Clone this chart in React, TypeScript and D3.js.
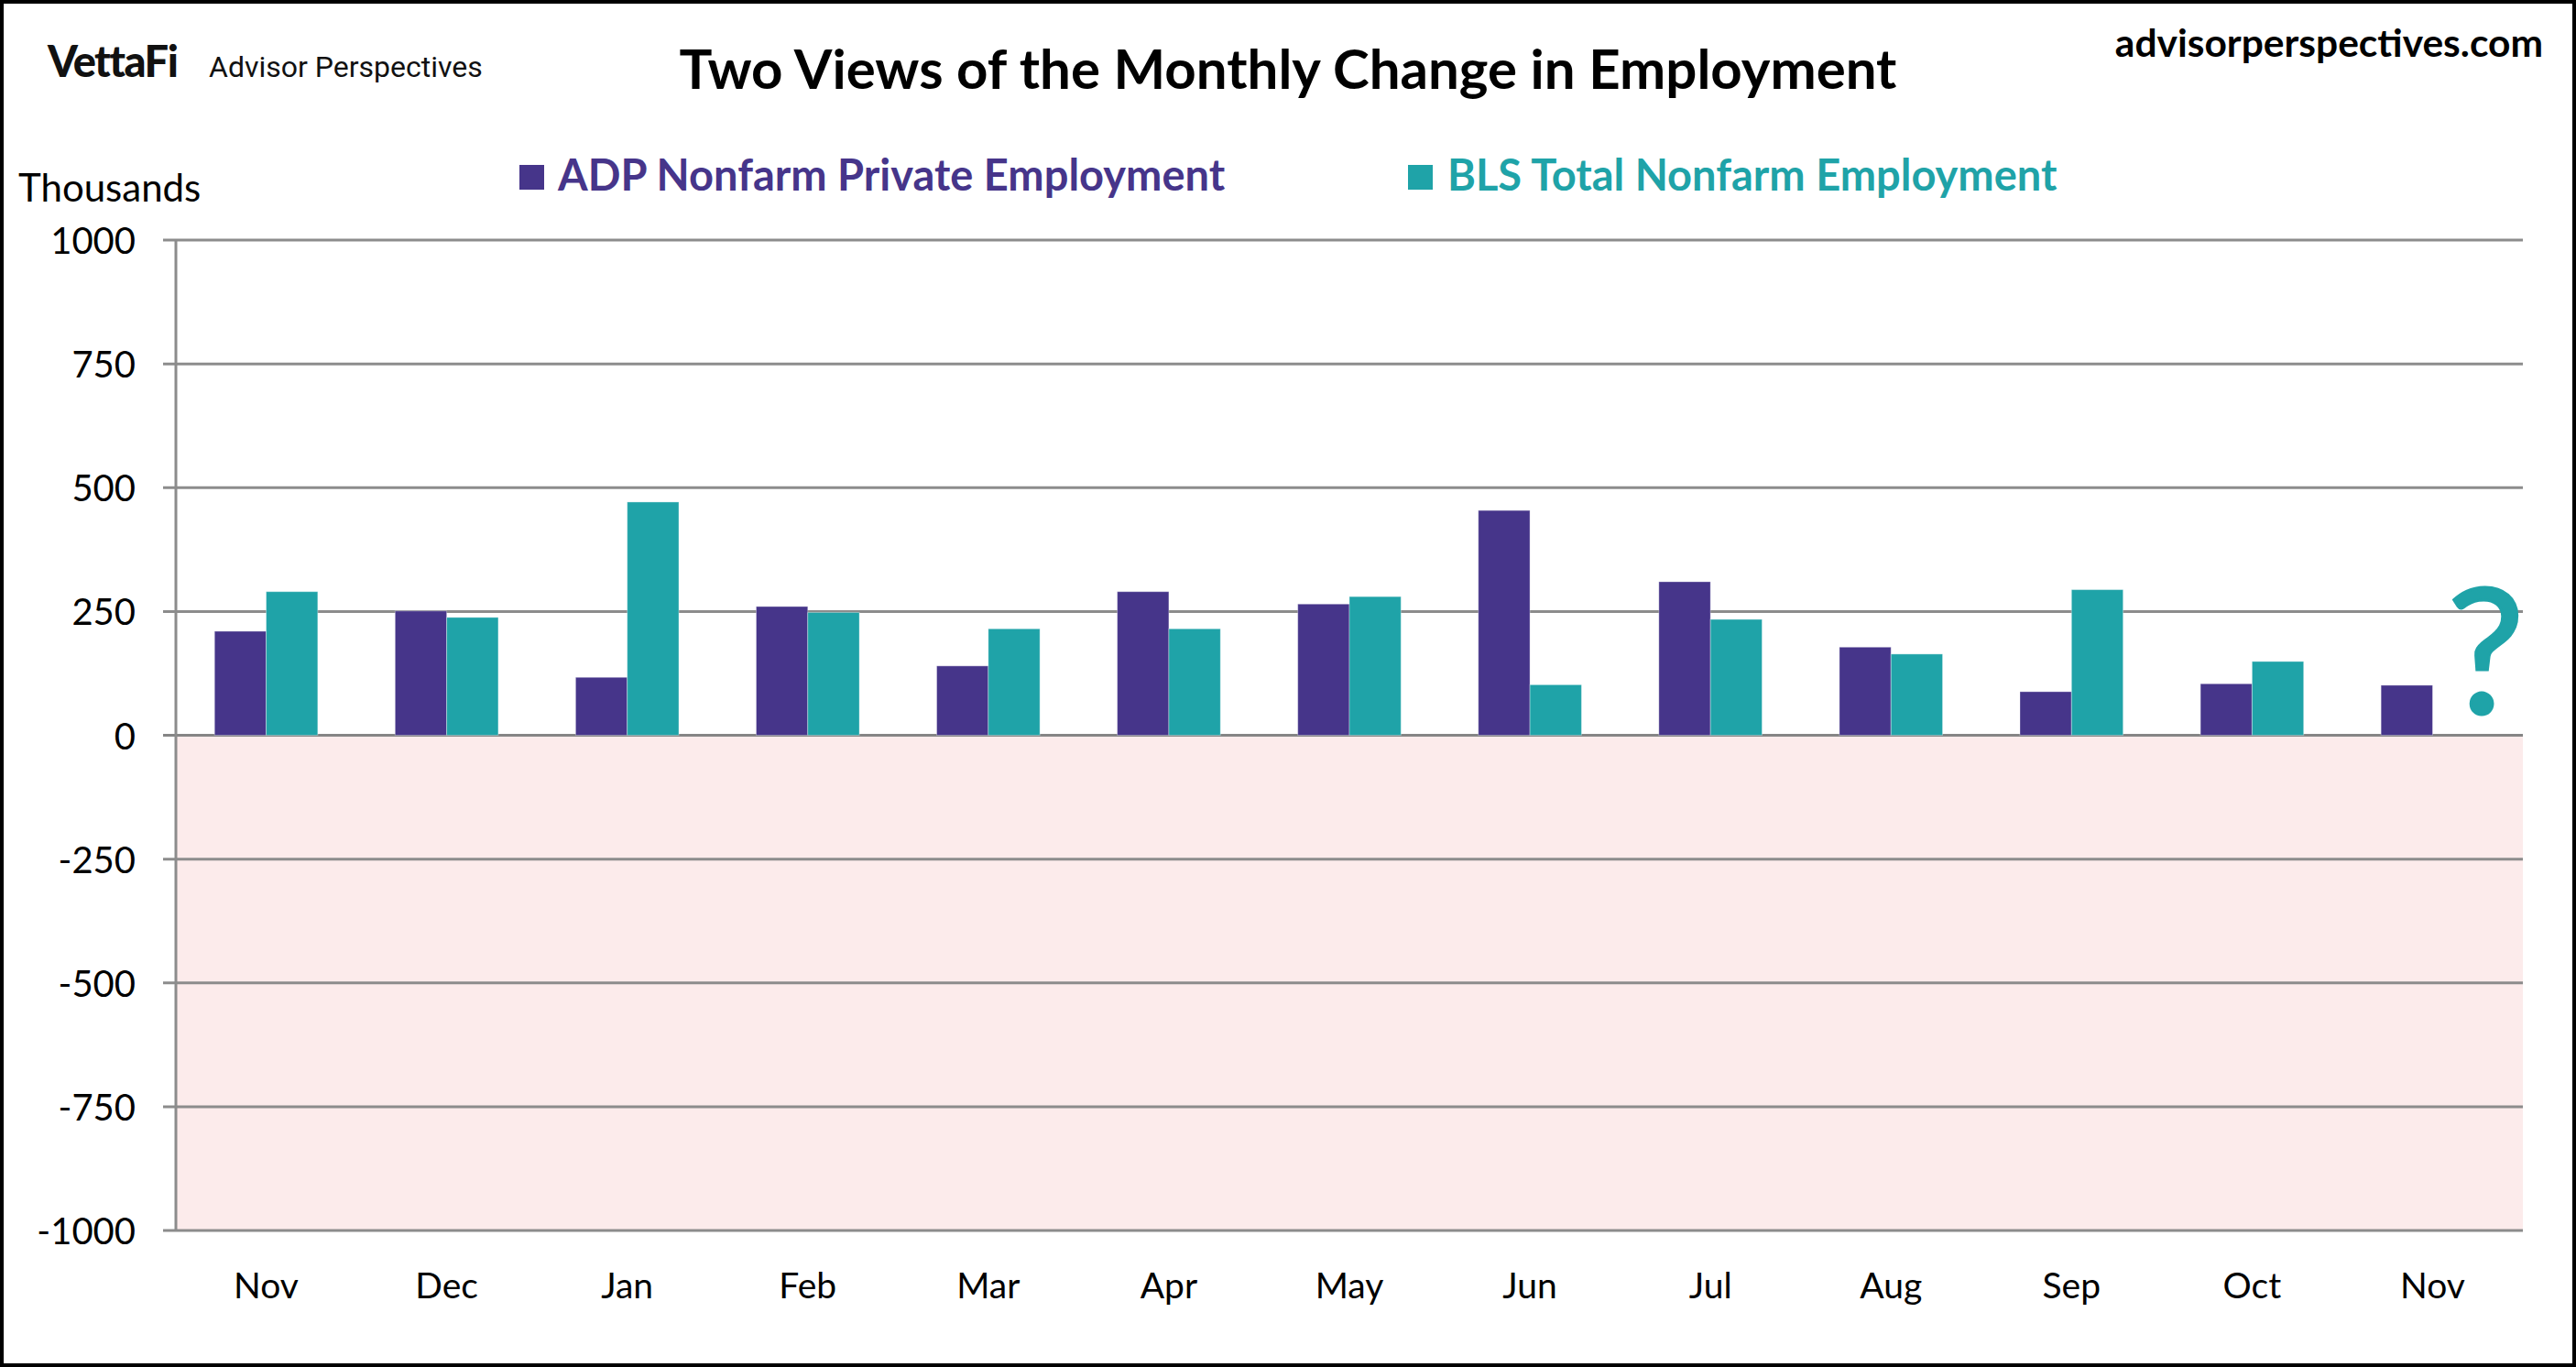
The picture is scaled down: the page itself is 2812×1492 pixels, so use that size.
import * as d3 from 'd3';

const months = ['Nov', 'Dec', 'Jan', 'Feb', 'Mar', 'Apr', 'May', 'Jun', 'Jul', 'Aug', 'Sep', 'Oct', 'Nov'];
const adpValues = [210, 251, 117, 260, 140, 290, 265, 454, 310, 178, 88, 104, 101];
const blsValues: (number | null)[] = [290, 238, 471, 248, 215, 215, 280, 102, 234, 164, 294, 149, null];
const yTicks = [1000, 750, 500, 250, 0, -250, -500, -750, -1000];
const seriesNames = ['ADP Nonfarm Private Employment', 'BLS Total Nonfarm Employment'];

const W = 2812;
const H = 1492;
const plot = { left: 192, right: 2754, top: 262, bottom: 1343 };
const ADP = '#46358A';
const BLS = '#1FA3A8';
const GRID = '#8C8C8C';
const FONT = 'Lato, "Open Sans", sans-serif';

export default function App() {
  const x = d3
    .scaleBand<number>()
    .domain(d3.range(months.length))
    .range([plot.left, plot.right])
    .padding(0);
  // excel style: gap width 150% -> 0.75 bar width on each side
  const sub = d3
    .scaleBand<string>()
    .domain(['adp', 'bls'])
    .range([0, x.bandwidth()])
    .paddingInner(0)
    .paddingOuter(0.75);
  const y = d3.scaleLinear().domain([-1000, 1000]).range([plot.bottom, plot.top]);
  const bw = sub.bandwidth();

  const bar = (i: number, key: string, v: number, color: string) => (
    <rect
      key={key + i}
      x={(x(i) ?? 0) + (sub(key) ?? 0)}
      y={y(Math.max(0, v))}
      width={bw}
      height={Math.abs(y(v) - y(0))}
      fill={color}
      stroke="#ffffff"
      strokeOpacity={0.35}
      strokeWidth={1}
    />
  );

  return (
    <svg
      width={W}
      height={H}
      style={{ position: 'absolute', left: 0, top: 0, background: '#fff' }}
      fontFamily={FONT}
    >
      <rect x={0} y={0} width={W} height={H} fill="#fff" />

      {/* header */}
      <text x={52} y={84} fontSize={47} fontWeight={900} fill="#111" letterSpacing={-1.5}>
        VettaFi
      </text>
      <text x={228} y={84} fontSize={32} fontFamily="Roboto, sans-serif" fill="#111">
        Advisor Perspectives
      </text>
      <text x={W / 2} y={97} fontSize={60} fontWeight={700} textAnchor="middle" fill="#000">
        Two Views of the Monthly Change in Employment
      </text>
      <text x={2776} y={62} fontSize={42.5} fontWeight={700} textAnchor="end" fill="#000">
        advisorperspectives.com
      </text>

      {/* legend */}
      <rect x={567} y={180} width={27} height={27} fill={ADP} />
      <text x={609} y={208} fontSize={47} fontWeight={700} fill={ADP}>
        {seriesNames[0]}
      </text>
      <rect x={1537} y={180} width={27} height={27} fill={BLS} />
      <text x={1580} y={208} fontSize={47} fontWeight={700} fill={BLS}>
        {seriesNames[1]}
      </text>

      <text x={20} y={220} fontSize={42} fill="#000">
        Thousands
      </text>

      {/* negative zone */}
      <rect
        x={plot.left}
        y={y(0)}
        width={plot.right - plot.left}
        height={y(-1000) - y(0)}
        fill="#FCEBEB"
      />

      {/* grid + y ticks */}
      {yTicks.map((t) => (
        <g key={t}>
          <line
            x1={plot.left - 14}
            x2={plot.right}
            y1={y(t)}
            y2={y(t)}
            stroke={t === 0 ? '#858585' : GRID}
            strokeWidth={3}
          />
          <text x={148} y={y(t) + 15} fontSize={40} textAnchor="end" fill="#000">
            {t}
          </text>
        </g>
      ))}
      <line x1={plot.left} x2={plot.left} y1={plot.top} y2={plot.bottom} stroke={GRID} strokeWidth={3} />

      {/* bars */}
      {adpValues.map((v, i) => bar(i, 'adp', v, ADP))}
      {blsValues.map((v, i) => (v == null ? null : bar(i, 'bls', v, BLS)))}

      {/* missing value marker */}
      <text
        x={(x(12) ?? 0) + (sub('bls') ?? 0) + bw / 2 + 30}
        y={y(0) - 24}
        fontSize={190}
        fontWeight={400}
        textAnchor="middle"
        fill={BLS}
        stroke={BLS}
        strokeWidth={3}
      >
        ?
      </text>

      {/* x labels */}
      {months.map((m, i) => (
        <text
          key={i}
          x={(x(i) ?? 0) + x.bandwidth() / 2}
          y={1417}
          fontSize={39}
          textAnchor="middle"
          fill="#000"
        >
          {m}
        </text>
      ))}

      <rect x={2} y={2} width={W - 4} height={H - 4} fill="none" stroke="#000" strokeWidth={4} />
    </svg>
  );
}
